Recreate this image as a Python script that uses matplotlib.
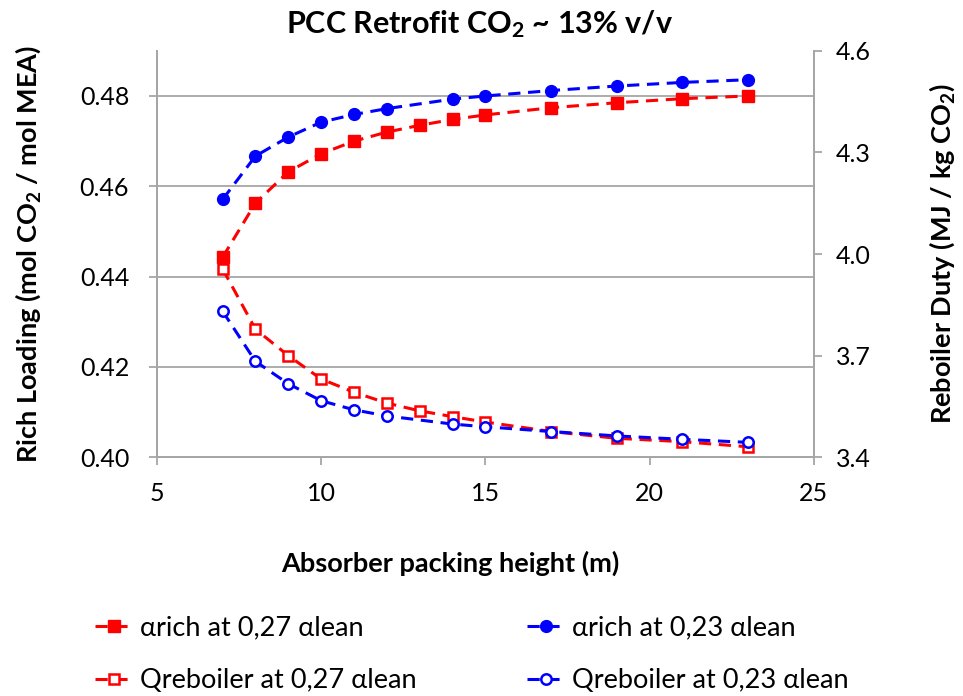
import matplotlib
matplotlib.use("Agg")
import matplotlib.pyplot as plt

plt.rcParams['font.family'] = ['Lato', 'DejaVu Sans']
plt.rcParams['mathtext.default'] = 'regular'

# packing height (m)
x_red = [7, 8, 9, 10, 11, 12, 13, 14, 15, 17, 19, 21, 23]
x_blue = [7, 8, 9, 10, 11, 12, 14, 15, 17, 19, 21, 23]

# rich loading (mol CO2 / mol MEA)
rich_027 = [0.4443, 0.4563, 0.4632, 0.4672, 0.4700, 0.4720, 0.4735,
            0.4748, 0.4758, 0.4774, 0.4785, 0.4794, 0.4800]
rich_023 = [0.4571, 0.4667, 0.4709, 0.4742, 0.4759, 0.4772, 0.4793,
            0.4800, 0.4812, 0.4822, 0.4830, 0.4836]

# reboiler duty (MJ / kg CO2)
q_027 = [3.956, 3.778, 3.700, 3.631, 3.592, 3.560, 3.537, 3.520,
         3.504, 3.476, 3.456, 3.446, 3.431]
q_023 = [3.831, 3.683, 3.617, 3.567, 3.540, 3.522, 3.498, 3.490,
         3.476, 3.463, 3.453, 3.444]

RED = '#ff0000'
BLUE = '#0000ff'
GRAY = '#a6a6a6'

fig = plt.figure(figsize=(9.63, 6.96), dpi=100)
ax = fig.add_axes([0.163, 0.343, 0.682, 0.584])
ax2 = ax.twinx()

dash = (0, (4, 2.5))
l1, = ax.plot(x_red, rich_027, color=RED, ls=dash, lw=2.2, marker='s', ms=8.5,
              label='αrich at 0,27 αlean', zorder=3)
l2, = ax.plot(x_blue, rich_023, color=BLUE, ls=dash, lw=2.2, marker='o', ms=8.5,
              label='αrich at 0,23 αlean', zorder=3)
l3, = ax2.plot(x_red, q_027, color=RED, ls=dash, lw=2.2, marker='s', ms=7.5,
               mfc='white', mew=1.8, label='Qreboiler at 0,27 αlean')
l4, = ax2.plot(x_blue, q_023, color=BLUE, ls=dash, lw=2.2, marker='o', ms=7.5,
               mfc='white', mew=1.8, label='Qreboiler at 0,23 αlean')

ax.set_xlim(5, 25)
ax.set_ylim(0.40, 0.49)
ax.set_yticks([0.40, 0.42, 0.44, 0.46, 0.48])
ax.set_yticklabels(['0.40', '0.42', '0.44', '0.46', '0.48'])
ax.set_xticks([5, 10, 15, 20, 25])
ax2.set_ylim(3.4, 4.6)
ax2.set_yticks([3.4, 3.7, 4.0, 4.3, 4.6])
ax2.set_yticklabels(['3.4', '3.7', '4.0', '4.3', '4.6'])

ax.grid(axis='y', color=GRAY, lw=1.3)
ax.set_axisbelow(True)
for a in (ax, ax2):
    a.spines['top'].set_visible(False)
    for s in ('left', 'right', 'bottom'):
        a.spines[s].set_color(GRAY)
        a.spines[s].set_linewidth(1.3)
    a.tick_params(colors=GRAY, labelcolor='black', labelsize=18, length=6, width=1.3)
ax.tick_params(axis='x', pad=12)
ax.tick_params(axis='y', pad=14)
ax2.tick_params(axis='y', pad=10)

fig.text(480 / 963, 0.966, 'PCC Retrofit CO$_2$ ~ 13% v/v', fontsize=22,
         fontweight='bold', ha='center', va='center')
ax.set_xlabel('Absorber packing height (m)', fontsize=19.5, fontweight='bold', va='center')
ax.xaxis.set_label_coords(0.447, -0.26)
ax.set_ylabel('Rich Loading (mol CO$_2$ / mol MEA)', fontsize=19.5, fontweight='bold', va='center')
ax.yaxis.set_label_coords(-0.196, 0.5)
ax2.set_ylabel('Reboiler Duty (MJ / kg CO$_2$)', fontsize=19.5, fontweight='bold', va='center')
ax2.yaxis.set_label_coords(1.195, 0.5)

fig.legend(handles=[l1, l3, l2, l4], loc='center', bbox_to_anchor=(0.49, 0.06),
           ncol=2, frameon=False, fontsize=19.5, handlelength=1.4,
           columnspacing=4.1, labelspacing=1.05, handletextpad=0.25)

fig.savefig('out.png', dpi=100)
